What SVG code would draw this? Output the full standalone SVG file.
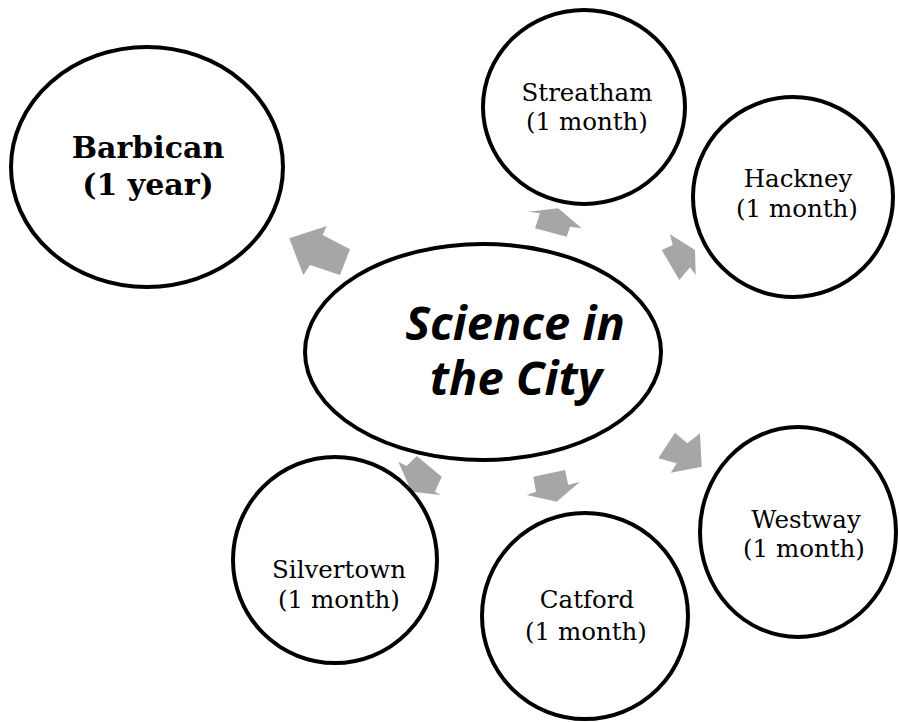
<svg xmlns="http://www.w3.org/2000/svg" width="899" height="722" viewBox="0 0 899 722">
<style>
.node{fill:#fff;stroke:#000;stroke-width:4}
.arr{fill:#a6a6a6;stroke:none}
.lbl{font-family:"DejaVu Serif","Liberation Serif",serif;font-size:24.5px;fill:#000;text-anchor:middle}
.big{font-family:"DejaVu Serif","Liberation Serif",serif;font-size:30px;font-weight:bold;fill:#000;text-anchor:middle}
.ctr{font-family:"Open Sans","Noto Sans",sans-serif;font-size:47px;font-weight:bold;font-style:italic;fill:#000;text-anchor:middle}
</style>
<rect width="899" height="722" fill="#fff"/>
<g id="connectors">
<polygon class="arr" points="289.3,238.3 326.7,226 322.7,235 350,249.3 340,275 310,265 303.3,275"/>
<polygon class="arr" points="558.3,208.3 581.7,228.3 570,226.7 566.7,236.7 535,228.3 540,213.3 528.3,211.7"/>
<polygon class="arr" points="661.7,250 672.7,245 670,234.3 695,250 695.7,275 690,267.3 679.3,280"/>
<polygon class="arr" points="675,432.7 687.3,443.3 700,433.3 701.7,466.7 670.7,472.7 676.7,463.3 658.3,458.3"/>
<polygon class="arr" points="533.3,476.7 565,470 568.3,485 580,481.7 556.7,501.7 526.7,495 536,491.7"/>
<polygon class="arr" points="411.7,491.7 398.3,461.7 406.7,466 416.7,456 441.7,476.7 435,491.7 441,495"/>
</g>
<g id="barbican">
<ellipse class="node" cx="147" cy="167" rx="136" ry="120"/>
<text class="big" x="148" y="158">Barbican</text>
<text class="big" x="148" y="195">(1 year)</text>
</g>
<g id="streatham">
<ellipse class="node" cx="584" cy="107" rx="101" ry="97"/>
<text class="lbl" x="587" y="101">Streatham</text>
<text class="lbl" x="587" y="130">(1 month)</text>
</g>
<g id="hackney">
<ellipse class="node" cx="793" cy="197" rx="100" ry="100"/>
<text class="lbl" x="798" y="187">Hackney</text>
<text class="lbl" x="797" y="217">(1 month)</text>
</g>
<g id="westway">
<ellipse class="node" cx="798" cy="532" rx="98" ry="105"/>
<text class="lbl" x="806" y="528">Westway</text>
<text class="lbl" x="804" y="557">(1 month)</text>
</g>
<g id="catford">
<ellipse class="node" cx="585" cy="616" rx="103" ry="103"/>
<text class="lbl" x="587" y="608">Catford</text>
<text class="lbl" x="586" y="640">(1 month)</text>
</g>
<g id="silvertown">
<ellipse class="node" cx="335" cy="560" rx="102" ry="103"/>
<text class="lbl" x="339" y="578">Silvertown</text>
<text class="lbl" x="339" y="608">(1 month)</text>
</g>
<g id="science">
<ellipse class="node" cx="483" cy="352" rx="178" ry="108"/>
<text class="ctr" x="515" y="340">Science in</text>
<text class="ctr" x="516" y="395">the City</text>
</g>
</svg>
